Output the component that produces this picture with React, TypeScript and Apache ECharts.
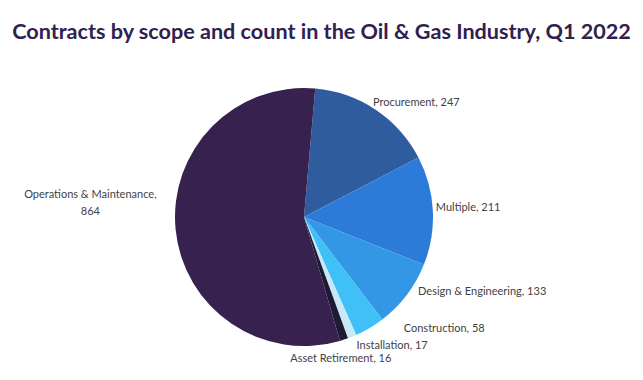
import React, { useEffect, useRef } from "react";
import * as echarts from "echarts";

const categories = [
  "Procurement",
  "Multiple",
  "Design & Engineering",
  "Construction",
  "Installation",
  "Asset Retirement",
  "Operations & Maintenance",
];
const counts = [247, 211, 133, 58, 17, 16, 864];
const colors = ["#2e5c9f", "#2d7bd9", "#3497e6", "#3fc0f6", "#c8e8f6", "#1d1a33", "#37214f"];
const title = "Contracts by scope and count in the Oil & Gas Industry, Q1 2022";

// label nudges (dx, dy) relative to the default outside position, like Excel's "best fit"
const labelNudge: [number, number][] = [
  [-10, -5],
  [-6, -4],
  [3, -7],
  [27, -4],
  [-2, 4],
  [-60, 14],
  [-10, -28],
];

export default function App() {
  const ref = useRef<HTMLDivElement>(null);
  useEffect(() => {
    if (!ref.current) return;
    const chart = echarts.init(ref.current, undefined, { renderer: "svg" });
    chart.setOption({
      animation: false,
      backgroundColor: "#ffffff",
      title: {
        text: title,
        left: "center",
        top: 15,
        textStyle: { fontFamily: "Lato", fontWeight: "bold", fontSize: 21.6, color: "#2f2150" },
      },
      series: [
        {
          type: "pie",
          center: [304, 217],
          radius: 129,
          startAngle: 85,
          clockwise: true,
          avoidLabelOverlap: false,
          data: categories.map((name, i) => ({
            name,
            value: counts[i],
            itemStyle: { color: colors[i] },
          })),
          label: {
            show: true,
            position: "outside",
            fontFamily: "Lato",
            fontSize: 11,
            color: "#3f3f4a",
            lineHeight: 17,
            formatter: (p: any) =>
              p.name.length > 20 ? `${p.name},\n${p.value}` : `${p.name}, ${p.value}`,
          },
          labelLine: { show: false, length: 4, length2: 0 },
          labelLayout: (p: any) => {
            const r = p.labelRect;
            const [dx, dy] = labelNudge[p.dataIndex] || [0, 0];
            const cy = r.y + r.height / 2 + dy;
            if (p.dataIndex === categories.length - 1) {
              return { x: r.x + r.width / 2 + dx, y: cy, align: "center", verticalAlign: "middle" };
            }
            return { x: r.x + dx, y: cy, align: "left", verticalAlign: "middle" };
          },
        },
      ],
    });
    return () => chart.dispose();
  }, []);
  return (
    <div
      ref={ref}
      style={{ position: "absolute", left: 0, top: 0, width: 643, height: 380 }}
    />
  );
}
